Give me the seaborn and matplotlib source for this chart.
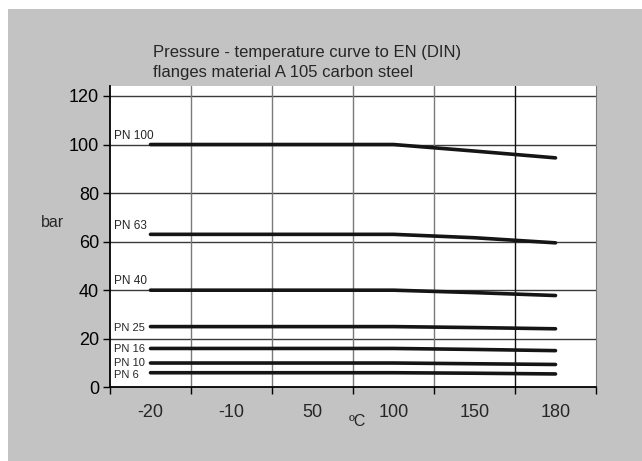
import matplotlib
matplotlib.use('Agg')
import pandas as pd
import matplotlib.pyplot as plt
import seaborn as sns
from matplotlib.patches import Rectangle

# temperatures (categories, evenly spaced on the chart)
temps = ['-20', '-10', '50', '100', '150', '180']

# pressure ratings in bar per nominal pressure class
pn_names = ['PN 100', 'PN 63', 'PN 40', 'PN 25', 'PN 16', 'PN 10', 'PN 6']
pn100 = [100, 100, 100, 100, 97.3, 94.5]
pn63 = [63, 63, 63, 63, 61.6, 59.5]
pn40 = [40, 40, 40, 40, 39.0, 37.8]
pn25 = [25, 25, 25, 25, 24.6, 24.1]
pn16 = [16, 16, 16, 16, 15.6, 15.1]
pn10 = [10, 10, 10, 10, 9.7, 9.4]
pn6 = [6, 6, 6, 6, 5.8, 5.5]
series = [pn100, pn63, pn40, pn25, pn16, pn10, pn6]

rows = []
for name, vals in zip(pn_names, series):
    for t, v in zip(temps, vals):
        rows.append({'temp': t, 'bar': v, 'pn': name})
df = pd.DataFrame(rows)

sns.set_style('white')
plt.rcParams['font.family'] = ['Liberation Sans', 'DejaVu Sans']

fig = plt.figure(figsize=(6.42, 4.61), dpi=100)
fig.patch.set_facecolor('white')
fig.patches.append(Rectangle((8 / 642, 0), 1, 1 - 9 / 461, transform=fig.transFigure,
                             facecolor='#c3c3c3', edgecolor='none', zorder=-10))
ax = fig.add_axes([110 / 642, 73.7 / 461, 486 / 642, 301.3 / 461])
ax.set_facecolor('white')

sns.lineplot(data=df, x='temp', y='bar', hue='pn', sort=False,
             palette={n: '#151515' for n in pn_names}, linewidth=2.6,
             legend=False, ax=ax)

ax.set_xlim(-0.5, 5.5)
ax.set_ylim(0, 124.1)

# grid
for y in range(20, 121, 20):
    ax.axhline(y, color='#3a3a3a', lw=1, zorder=0)
for x in [0.5, 1.5, 2.5, 3.5, 4.5]:
    ax.axvline(x, color='#111111' if x == 4.5 else '#7a7a7a', lw=1, zorder=0)

ax.spines['top'].set_visible(False)
ax.spines['right'].set_color('#7a7a7a')
ax.spines['left'].set_color('black')
ax.spines['bottom'].set_color('black')
ax.spines['left'].set_linewidth(1.3)
ax.spines['bottom'].set_linewidth(1.3)

ax.set_yticks(range(0, 121, 20))
ax.tick_params(axis='y', left=True, length=5, width=1, pad=3, labelsize=13, colors='black')
ax.set_xticks(range(len(temps)))
ax.set_xticklabels(temps)
ax.set_xticks([-0.5, 0.5, 1.5, 2.5, 3.5, 4.5, 5.5], minor=True)
ax.tick_params(axis='x', which='major', length=0, pad=12, labelsize=13)
ax.tick_params(axis='x', which='minor', bottom=True, length=5, width=1, color='black')

ax.set_xlabel('')
ax.set_ylabel('')
fig.text(52 / 642, 1 - 222 / 461, 'bar', fontsize=11.5, ha='center', va='center')
fig.text(357 / 642, 1 - 422 / 461, 'ºC', fontsize=11.5, ha='center', va='center')

fig.text(153 / 642, 1 - 52 / 461, 'Pressure - temperature curve to EN (DIN)',
         fontsize=12, ha='left', va='center')
fig.text(153 / 642, 1 - 73 / 461, 'flanges material A 105 carbon steel',
         fontsize=12, ha='left', va='center')

# class labels at the start of each line
nudge = {'PN 10': 1.0, 'PN 6': -0.8}
for name, vals in zip(pn_names, series):
    if vals[0] >= 40:
        ax.annotate(name, xy=(-0.5, vals[0]), xytext=(3, 2), textcoords='offset points',
                    fontsize=8.5, ha='left', va='bottom')
    else:
        ax.annotate(name, xy=(-0.5, vals[0]), xytext=(3, -2.9 + nudge.get(name, 0)),
                    textcoords='offset points', fontsize=8, ha='left', va='baseline')

fig.savefig('out.png', dpi=100)
